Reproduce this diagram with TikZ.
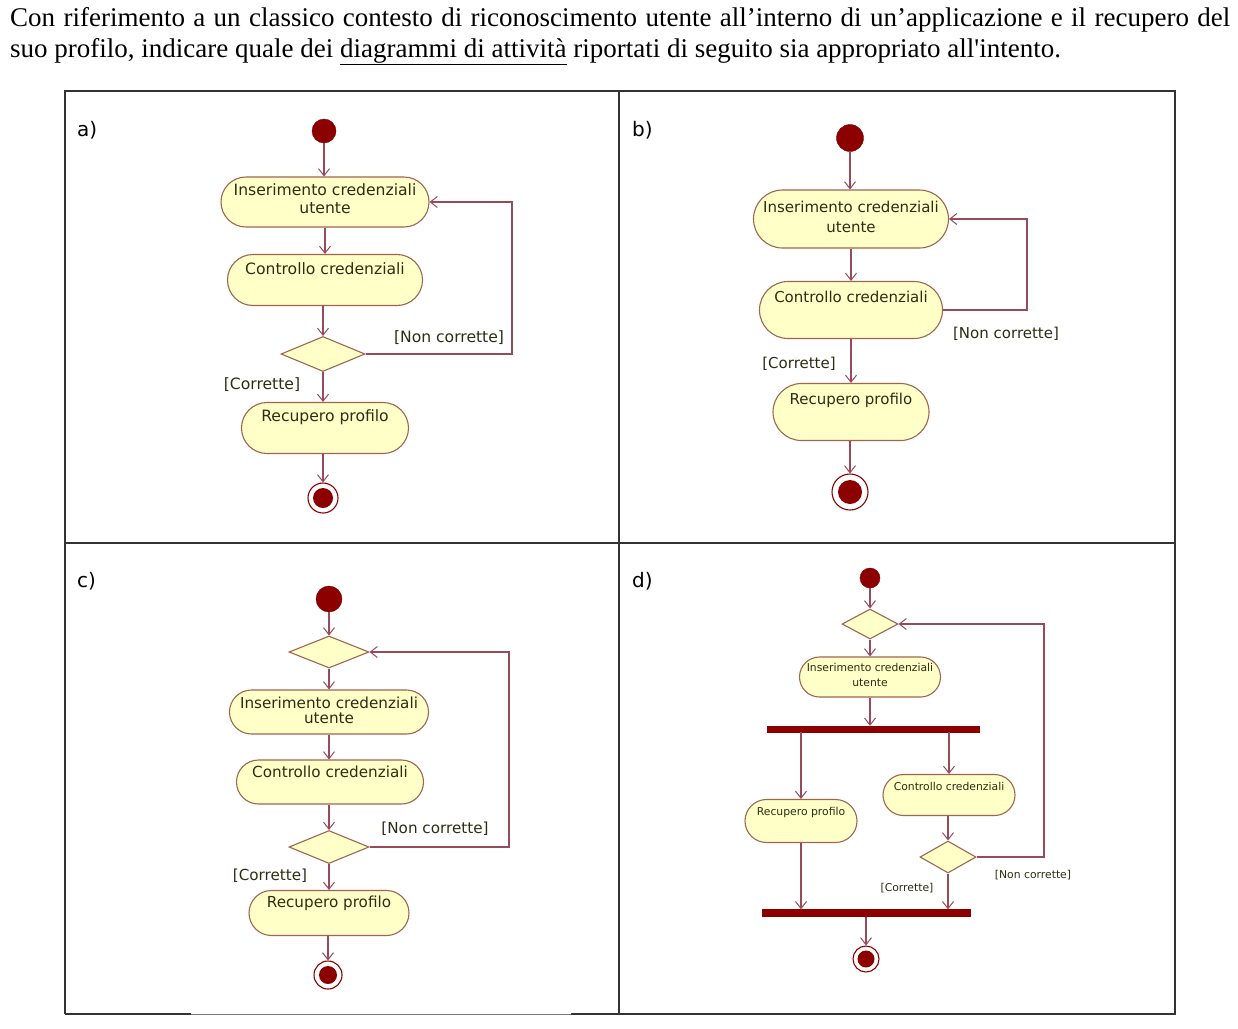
\documentclass[tikz,border=0pt]{standalone}
\usepackage{fontspec}
\setmainfont{Liberation Serif}
\newfontfamily\umlfont{DejaVu Sans}
\usetikzlibrary{arrows.meta,shapes.geometric,shapes.misc}
\definecolor{umlline}{RGB}{150,75,90}
\definecolor{umlfill}{RGB}{255,255,200}
\definecolor{umlborder}{RGB}{160,100,80}
\definecolor{umldark}{RGB}{140,0,0}
\definecolor{umltext}{RGB}{45,45,20}
\definecolor{framegray}{RGB}{120,120,120}
\begin{document}
\begin{tikzpicture}[x=1pt,y=-1pt,
  act/.style={rounded rectangle, draw=umlborder, fill=umlfill, line width=1.1pt, inner sep=0pt},
  dec/.style={diamond, draw=umlborder, fill=umlfill, line width=1.1pt, inner sep=0pt},
  startn/.style={circle, fill=umldark, draw=umldark!85!black, inner sep=0pt},
  endring/.style={circle, draw=umldark, fill=white, line width=1.1pt, inner sep=0pt},
  endcore/.style={circle, fill=umldark, inner sep=0pt},
  bar/.style={rectangle, fill=umldark, draw=umldark, inner sep=0pt},
  flow/.style={draw=umlline, line width=1.1pt, -{Straight Barb[length=7pt,width=11pt,line width=1pt]}},
  seg/.style={draw=umlline, line width=1.1pt},
  ta/.style={text=umltext, inner sep=0pt, align=center, font=\umlfont\fontsize{15.6}{18}\selectfont},
  tb/.style={text=umltext, inner sep=0pt, align=center, font=\umlfont\fontsize{15}{20}\selectfont},
  tc/.style={text=umltext, inner sep=0pt, align=center, font=\umlfont\fontsize{15.2}{15}\selectfont},
  td/.style={text=umltext, inner sep=0pt, align=center, font=\umlfont\fontsize{10.8}{15}\selectfont},
  plab/.style={inner sep=0pt, anchor=base west, font=\umlfont\fontsize{20}{24}\selectfont},
  head/.style={inner sep=0pt, anchor=base west, font=\fontsize{27}{31}\selectfont},
  frame/.style={draw=black!80, line width=1.4pt}
]
\useasboundingbox[fill=white] (0,0) rectangle (1238,1028);

% heading
\node[head] (h1) at (10,26)
  {\makebox[1220pt][s]{Con riferimento a un classico contesto di riconoscimento utente all’interno di un’applicazione e il recupero del}};
\node[head] (h2) at (10,57)
  {suo profilo, indicare quale dei \underline{diagrammi di attività} riportati di seguito sia appropriato all\textquotesingle intento.};

% frame
\coordinate (fTL) at (65,91);
\coordinate (fTR) at (1175,91);
\coordinate (fBL) at (65,1014);
\coordinate (fBR) at (1175,1014);
\coordinate (fG1) at (191,1014);
\coordinate (fG2) at (571,1014);
\draw[frame] (fBL) -- (fTL) -- (fTR) -- (fBR) -- (fG2);
\draw[frame] (fBL) -- (fG1);
\draw[draw=framegray, line width=1pt] (fG1) -- (fG2);
\coordinate (mT) at (619,91);
\coordinate (mB) at (619,1014);
\coordinate (mL) at (65,543);
\coordinate (mR) at (1175,543);
\draw[frame] (mT) -- (mB);
\draw[frame] (mL) -- (mR);

\node[plab] (la) at (77,136) {a)};
\node[plab] (lb) at (632,136) {b)};
\node[plab] (lc) at (77,587) {c)};
\node[plab] (ld) at (632,587) {d)};

% ---------------- panel a
\node[startn, minimum size=24pt] (a0) at (324,131) {};
\node[act, minimum width=208pt, minimum height=50pt] (a1) at (325,202) {};
\node[ta] (a1t) at (325,199) {Inserimento credenziali\\utente};
\node[act, minimum width=195pt, minimum height=51pt] (a2) at (325,280) {};
\node[ta] (a2t) at (325,269) {Controllo credenziali};
\node[dec, minimum width=84pt, minimum height=35pt] (a3) at (323,354) {};
\node[act, minimum width=167pt, minimum height=51pt] (a4) at (325,428) {};
\node[ta] (a4t) at (325,417) {Recupero profilo};
\node[endring, minimum size=30pt] (a5) at (323,498) {};
\node[endcore, minimum size=20pt] (a5c) at (323,498) {};
\coordinate (aL) at (512,354);
\draw[flow] (a0.south) -- (a0.south |- a1.north);
\draw[flow] (a1.south) -- (a1.south |- a2.north);
\draw[flow] (a3.north |- a2.south) -- (a3.north);
\draw[flow] (a3.south) -- (a3.south |- a4.north);
\draw[flow] (a5.north |- a4.south) -- (a5.north);
\draw[flow] (a3.east) -- (aL) -- (aL |- a1.east) -- (a1.east);
\node[ta] (a6) at (449,338) {[Non corrette]};
\node[ta] (a7) at (262,385) {[Corrette]};

% ---------------- panel b
\node[startn, minimum size=27pt] (b0) at (850,138) {};
\node[act, minimum width=195pt, minimum height=58pt] (b1) at (851,219) {};
\node[tb] (b1t) at (851,217) {Inserimento credenziali\\utente};
\node[act, minimum width=183pt, minimum height=57pt] (b2) at (851,310) {};
\node[tb] (b2t) at (851,297) {Controllo credenziali};
\node[act, minimum width=156pt, minimum height=57pt] (b3) at (851,412) {};
\node[tb] (b3t) at (851,400) {Recupero profilo};
\node[endring, minimum size=36pt] (b4) at (850,492) {};
\node[endcore, minimum size=24pt] (b4c) at (850,492) {};
\coordinate (bL) at (1027,310);
\draw[flow] (b0.south) -- (b0.south |- b1.north);
\draw[flow] (b1.south) -- (b1.south |- b2.north);
\draw[flow] (b2.south) -- (b2.south |- b3.north);
\draw[flow] (b4.north |- b3.south) -- (b4.north);
\draw[flow] (b2.east) -- (bL) -- (bL |- b1.east) -- (b1.east);
\node[tb] (b6) at (1006,334) {[Non corrette]};
\node[tb] (b7) at (799,364) {[Corrette]};

% ---------------- panel c
\node[startn, minimum size=26pt] (c0) at (329,599) {};
\node[dec, minimum width=80pt, minimum height=32pt] (c1) at (329,652) {};
\node[act, minimum width=199pt, minimum height=44pt] (c2) at (329,712) {};
\node[tc] (c2t) at (329,710) {Inserimento credenziali\\utente};
\node[act, minimum width=187pt, minimum height=44pt] (c3) at (330,782) {};
\node[tc] (c3t) at (330,772) {Controllo credenziali};
\node[dec, minimum width=80pt, minimum height=33pt] (c4) at (329,847) {};
\node[act, minimum width=160pt, minimum height=45pt] (c5) at (329,913) {};
\node[tc] (c5t) at (329,903) {Recupero profilo};
\node[endring, minimum size=28pt] (c6) at (328,975) {};
\node[endcore, minimum size=18pt] (c6c) at (328,975) {};
\coordinate (cL) at (509,847);
\draw[flow] (c0.south) -- (c0.south |- c1.north);
\draw[flow] (c1.south) -- (c1.south |- c2.north);
\draw[flow] (c2.south) -- (c2.south |- c3.north);
\draw[flow] (c4.north |- c3.south) -- (c4.north);
\draw[flow] (c4.south) -- (c4.south |- c5.north);
\draw[flow] (c6.north |- c5.south) -- (c6.north);
\draw[flow] (c4.east) -- (cL) -- (cL |- c1.east) -- (c1.east);
\node[tc] (c7) at (435,829) {[Non corrette]};
\node[tc] (c8) at (270,876) {[Corrette]};

% ---------------- panel d
\node[startn, minimum size=20pt] (d0) at (870,578) {};
\node[dec, minimum width=56pt, minimum height=30pt] (d1) at (870,624) {};
\node[act, minimum width=141pt, minimum height=40pt] (d2) at (870,677) {};
\node[td] (d2t) at (870,675) {Inserimento credenziali\\utente};
\node[bar, minimum width=212pt, minimum height=6pt] (d3) at (873,729) {};
\node[act, minimum width=112pt, minimum height=43pt] (d4) at (801,821) {};
\node[td] (d4t) at (801,813) {Recupero profilo};
\node[act, minimum width=132pt, minimum height=41pt] (d5) at (949,795) {};
\node[td] (d5t) at (949,786) {Controllo credenziali};
\node[dec, minimum width=56pt, minimum height=32pt] (d6) at (948,857) {};
\node[bar, minimum width=208pt, minimum height=7pt] (d7) at (866,913) {};
\node[endring, minimum size=26pt] (d8) at (866,959) {};
\node[endcore, minimum size=17pt] (d8c) at (866,959) {};
\coordinate (dL) at (1044,857);
\draw[flow] (d0.south) -- (d0.south |- d1.north);
\draw[flow] (d1.south) -- (d1.south |- d2.north);
\draw[flow] (d2.south) -- (d2.south |- d3.north);
\draw[flow] (d3.south -| d4.north) -- (d4.north);
\draw[flow] (d3.south -| d5.north) -- (d5.north);
\draw[flow] (d5.south -| d6.north) -- (d6.north);
\draw[flow] (d4.south) -- (d4.south |- d7.north);
\draw[flow] (d6.south) -- (d6.south |- d7.north);
\draw[flow] (d7.south -| d8.north) -- (d8.north);
\draw[flow] (d6.east) -- (dL) -- (dL |- d1.east) -- (d1.east);
\node[td] (d9) at (1033,875) {[Non corrette]};
\node[td] (d10) at (907,888) {[Corrette]};
\end{tikzpicture}
\end{document}
